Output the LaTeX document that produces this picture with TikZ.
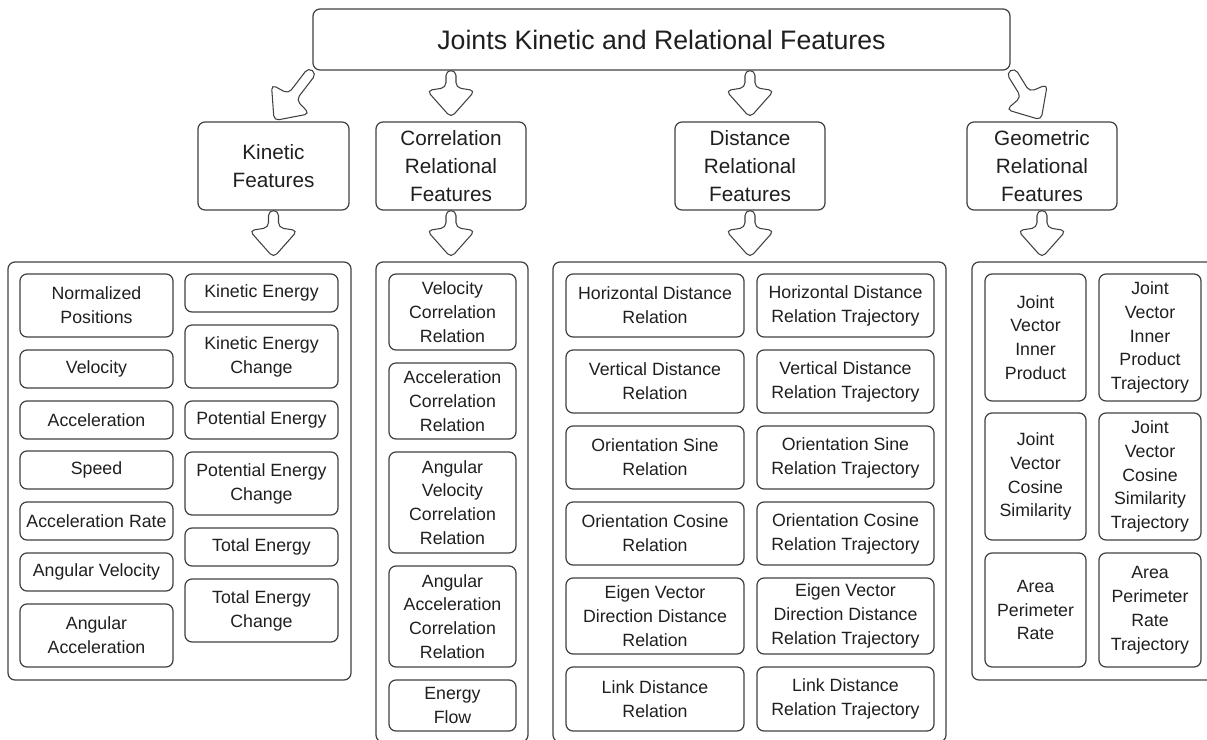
\documentclass[tikz,border=0pt]{standalone}
\usepackage{fontspec}
\setmainfont{Liberation Sans}
\usepackage{tikz}
\usetikzlibrary{fit}
\usetikzlibrary{calc}
\definecolor{boxline}{gray}{0.25}
\definecolor{boxtext}{gray}{0.12}
\tikzset{
	base/.style={draw=boxline, line width=0.7pt, rounded corners=0.14cm, inner sep=0pt},
	txt/.style={text=boxtext, align=center, inner sep=0pt},
	titlebox/.style={base, label={[txt, font=\fontsize{15.2}{18}\selectfont]center:#1}},
	featbox/.style={base, label={[txt, font=\fontsize{11.8}{15.9}\selectfont]center:#1}},
	groupbox/.style={base},
	itembox/.style={base, label={[txt, font=\fontsize{10.1}{13.6}\selectfont]center:#1}},
	arrowline/.style={draw=boxline, fill=white, line width=0.6pt, rounded corners=0.1cm},
	pics/hollowarrow/.style={code={
		\draw[arrowline] (0,-5) -- ({#1-30},-5) -- ({#1-27},-24) -- (#1,0)
			-- ({#1-27},24) -- ({#1-30},5) -- (0,5) -- cycle;
	}},
}

\begin{document}
\begin{tikzpicture}[x=0.02cm, y=-0.02cm]
	\useasboundingbox (0,0) rectangle (1207,740);
	% top
	\node[titlebox={Joints Kinetic and Relational Features}, fit={(313,9) (1010,70)}] (title) {};
	\node[featbox={Kinetic\\Features}, fit={(198,122) (349,210)}] (kin) {};
	\node[featbox={Correlation\\Relational\\Features}, fit={(376,122) (526,210)}] (corr) {};
	\node[featbox={Distance\\Relational\\Features}, fit={(675,122) (825,210)}] (dist) {};
	\node[featbox={Geometric\\Relational\\Features}, fit={(967,122) (1117,210)}] (geo) {};
	% groups
	\node[groupbox, fit={(8,262) (351,680)}] (kingrp) {};
	\node[groupbox, fit={(376,262) (528,742)}] (corrgrp) {};
	\node[groupbox, fit={(553,262) (946,742)}] (distgrp) {};
	\node[groupbox, fit={(972,262) (1222,680)}] (geogrp) {};
	% kinetic
	\node[itembox={Normalized\\Positions}, fit={(20,274) (173,337)}] (normpos) {};
	\node[itembox={Velocity}, fit={(20,350) (173,388)}] (vel) {};
	\node[itembox={Acceleration}, fit={(20,401) (173,439)}] (acc) {};
	\node[itembox={Speed}, fit={(20,451) (173,489)}] (speed) {};
	\node[itembox={Acceleration Rate}, fit={(20,502) (173,540)}] (accrate) {};
	\node[itembox={Angular Velocity}, fit={(20,553) (173,591)}] (angvel) {};
	\node[itembox={Angular\\Acceleration}, fit={(20,604) (173,667)}] (angacc) {};
	\node[itembox={Kinetic Energy}, fit={(185,274) (338,312)}] (kinen) {};
	\node[itembox={Kinetic Energy\\Change}, fit={(185,325) (338,388)}] (kinench) {};
	\node[itembox={Potential Energy}, fit={(185,401) (338,439)}] (poten) {};
	\node[itembox={Potential Energy\\Change}, fit={(185,452) (338,515)}] (potench) {};
	\node[itembox={Total Energy}, fit={(185,528) (338,566)}] (toten) {};
	\node[itembox={Total Energy\\Change}, fit={(185,579) (338,642)}] (totench) {};
	% correlation
	\node[itembox={Velocity\\Correlation\\Relation}, fit={(389,274) (516,350)}] (velcorr) {};
	\node[itembox={Acceleration\\Correlation\\Relation}, fit={(389,363) (516,439)}] (acccorr) {};
	\node[itembox={Angular\\Velocity\\Correlation\\Relation}, fit={(389,452) (516,553)}] (angvelcorr) {};
	\node[itembox={Angular\\Acceleration\\Correlation\\Relation}, fit={(389,566) (516,667)}] (angacccorr) {};
	\node[itembox={Energy\\Flow}, fit={(389,680) (516,731)}] (enflow) {};
	% distance
	\node[itembox={Horizontal Distance\\Relation}, fit={(566,274) (744,337)}] (hdist) {};
	\node[itembox={Horizontal Distance\\Relation Trajectory}, fit={(757,274) (934,337)}] (hdisttr) {};
	\node[itembox={Vertical Distance\\Relation}, fit={(566,350) (744,413)}] (vdist) {};
	\node[itembox={Vertical Distance\\Relation Trajectory}, fit={(757,350) (934,413)}] (vdisttr) {};
	\node[itembox={Orientation Sine\\Relation}, fit={(566,426) (744,489)}] (osin) {};
	\node[itembox={Orientation Sine\\Relation Trajectory}, fit={(757,426) (934,489)}] (osintr) {};
	\node[itembox={Orientation Cosine\\Relation}, fit={(566,502) (744,565)}] (ocos) {};
	\node[itembox={Orientation Cosine\\Relation Trajectory}, fit={(757,502) (934,565)}] (ocostr) {};
	\node[itembox={Eigen Vector\\Direction Distance\\Relation}, fit={(566,578) (744,654)}] (eigen) {};
	\node[itembox={Eigen Vector\\Direction Distance\\Relation Trajectory}, fit={(757,578) (934,654)}] (eigentr) {};
	\node[itembox={Link Distance\\Relation}, fit={(566,667) (744,731)}] (link) {};
	\node[itembox={Link Distance\\Relation Trajectory}, fit={(757,667) (934,731)}] (linktr) {};
	% geometric
	\node[itembox={Joint\\Vector\\Inner\\Product}, fit={(985,274) (1086,401)}] (inner) {};
	\node[itembox={Joint\\Vector\\Inner\\Product\\Trajectory}, fit={(1099,274) (1201,401)}] (innertr) {};
	\node[itembox={Joint\\Vector\\Cosine\\Similarity}, fit={(985,413) (1086,540)}] (cosim) {};
	\node[itembox={Joint\\Vector\\Cosine\\Similarity\\Trajectory}, fit={(1099,413) (1201,540)}] (cosimtr) {};
	\node[itembox={Area\\Perimeter\\Rate}, fit={(985,553) (1086,667)}] (area) {};
	\node[itembox={Area\\Perimeter\\Rate\\Trajectory}, fit={(1099,553) (1201,667)}] (areatr) {};
	% arrows
	\path (title.south west) -- (kin.north) pic[pos=0, sloped, allow upside down]{hollowarrow=63};
	\path (corr.north |- title.south) -- (corr.north) pic[pos=0, sloped, allow upside down]{hollowarrow=47};
	\path (dist.north |- title.south) -- (dist.north) pic[pos=0, sloped, allow upside down]{hollowarrow=47};
	\path (title.south east) -- (geo.north) pic[pos=0, sloped, allow upside down]{hollowarrow=58};
	\path (kin.south) -- (kin.south |- kingrp.north) pic[pos=0, sloped, allow upside down]{hollowarrow=47};
	\path (corr.south) -- (corr.south |- corrgrp.north) pic[pos=0, sloped, allow upside down]{hollowarrow=47};
	\path (dist.south) -- (dist.south |- distgrp.north) pic[pos=0, sloped, allow upside down]{hollowarrow=47};
	\path (geo.south) -- (geo.south |- geogrp.north) pic[pos=0, sloped, allow upside down]{hollowarrow=47};
\end{tikzpicture}
\end{document}
